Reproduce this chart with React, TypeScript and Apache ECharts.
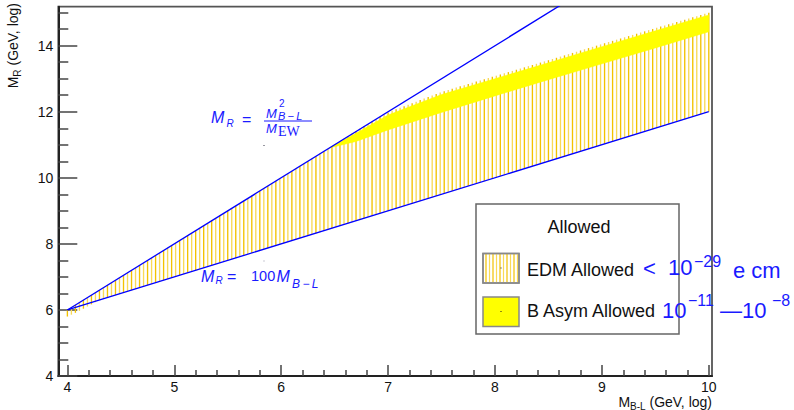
import React, { useEffect, useRef } from "react";
import * as echarts from "echarts";

// ---------- axes ----------
const xRange = [3.915, 10.03];
const yRange = [4, 15.18];
const xTickValues = [4, 5, 6, 7, 8, 9, 10];
const xMinorTickValues = [4.2, 4.4, 4.6, 4.8, 5.2, 5.4, 5.6, 5.8, 6.2, 6.4, 6.6, 6.8, 7.2, 7.4, 7.6, 7.8, 8.2, 8.4, 8.6, 8.8, 9.2, 9.4, 9.6, 9.8];
const yTickValues = [4, 6, 8, 10, 12, 14];
const yMinorTickValues = [4.5, 5, 5.5, 6.5, 7, 7.5, 8.5, 9, 9.5, 10.5, 11, 11.5, 12.5, 13, 13.5, 14.5, 15];

// ---------- boundary lines (log10 GeV) ----------
const lineX = [4, 10];
const upperLineY = [6, 18]; // M_R = M_{B-L}^2 / M_EW
const lowerLineY = [6, 12]; // M_R = 100 M_{B-L}

// ---------- EDM allowed region (hatched) ----------
const edmUpperX = [4.0, 6.45, 6.7, 7.0, 7.5, 8.0, 8.5, 9.0, 9.5, 10.0];
const edmUpperY = [6.0, 10.9, 11.42, 11.98, 12.6, 13.08, 13.56, 14.05, 14.53, 15.0];
const edmLowerX = [4.0, 4.1, 4.3, 10.0];
const edmLowerY = [5.8, 5.95, 6.3, 12.0];

// ---------- B asymmetry allowed band (solid yellow) ----------
const bandX = [6.45, 6.7, 7.0, 7.5, 8.0, 8.5, 9.0, 9.5, 10.0];
const bandTop = [10.9, 11.35, 11.9, 12.52, 13.0, 13.48, 13.97, 14.45, 14.93];
const bandBottom = [10.9, 11.1, 11.45, 11.98, 12.48, 12.97, 13.45, 13.93, 14.42];

// ---------- texts ----------
const legendTitle = "Allowed";
const legendLabels = ["EDM Allowed", "B Asym Allowed"];

const BLUE = "#1a1aff";
const HATCH_DARK = "#f2c200";
const HATCH_LIGHT = "#f8da58";
const FONT = "Liberation Sans, Arial, Helvetica, sans-serif";
const HATCH_STEP = 0.0375;

function interp(xs: number[], ys: number[], x: number) {
  if (x <= xs[0]) return ys[0];
  for (let i = 1; i < xs.length; i++) {
    if (x <= xs[i]) {
      const t = (x - xs[i - 1]) / (xs[i] - xs[i - 1]);
      return ys[i - 1] + t * (ys[i] - ys[i - 1]);
    }
  }
  return ys[ys.length - 1];
}

function txt(x: number, y: number, text: string, size: number, opts: any = {}) {
  return {
    type: "text",
    x,
    y,
    z: 100,
    style: {
      text,
      fontSize: size,
      fontFamily: opts.family || FONT,
      fontStyle: opts.italic ? "italic" : "normal",
      fill: opts.color || BLUE,
      align: opts.align || "left",
      verticalAlign: "middle",
    },
  };
}

export default function App() {
  const ref = useRef<HTMLDivElement>(null);

  useEffect(() => {
    if (!ref.current) return;
    const chart = echarts.init(ref.current, null, { renderer: "svg" });

    const tickLine = { color: "#444", width: 1.5 };

    const legendHatch: any[] = [];
    for (let i = 0; i < 10; i++) {
      const x = 486 + i * 3.5;
      legendHatch.push({
        type: "line",
        z: 61,
        shape: { x1: x, y1: 254, x2: x, y2: 282 },
        style: { stroke: i % 2 ? HATCH_LIGHT : HATCH_DARK, lineWidth: 1.2 },
      });
    }

    const option: any = {
      animation: false,
      backgroundColor: "#fff",
      grid: {
        left: 58.3,
        top: 6.7,
        right: 82,
        bottom: 34,
        show: true,
        borderColor: "#555",
        borderWidth: 1.8,
        backgroundColor: "transparent",
      },
      xAxis: [
        {
          type: "value",
          min: xRange[0],
          max: xRange[1],
          position: "bottom",
          axisLine: { show: true, onZero: false, lineStyle: { color: "#222", width: 2 } },
          axisTick: { show: true, inside: true, length: 11, customValues: xTickValues, lineStyle: tickLine },
          axisLabel: { customValues: xTickValues, fontSize: 14, color: "#111", fontFamily: FONT, margin: 4 },
          splitLine: { show: false },
        },
        {
          type: "value",
          min: xRange[0],
          max: xRange[1],
          position: "bottom",
          axisLine: { show: false, onZero: false },
          axisTick: { show: true, inside: true, length: 6, customValues: xMinorTickValues, lineStyle: tickLine },
          axisLabel: { show: false },
          splitLine: { show: false },
        },
      ],
      yAxis: [
        {
          type: "value",
          min: yRange[0],
          max: yRange[1],
          position: "left",
          axisLine: { show: true, onZero: false, lineStyle: { color: "#222", width: 2 } },
          axisTick: { show: true, inside: true, length: 19, customValues: yTickValues, lineStyle: tickLine },
          axisLabel: { customValues: yTickValues, fontSize: 14, color: "#111", fontFamily: FONT, margin: 5 },
          splitLine: { show: false },
        },
        {
          type: "value",
          min: yRange[0],
          max: yRange[1],
          position: "left",
          axisLine: { show: false, onZero: false },
          axisTick: { show: true, inside: true, length: 10, customValues: yMinorTickValues, lineStyle: tickLine },
          axisLabel: { show: false },
          splitLine: { show: false },
        },
      ],
      series: [
        {
          type: "custom",
          name: "EDM Allowed",
          z: 1,
          silent: true,
          data: [[edmUpperX[0], edmUpperY[0]]],
          renderItem: (_params: any, api: any) => {
            const children: any[] = [];
            const x0 = edmUpperX[0];
            const x1 = edmUpperX[edmUpperX.length - 1];
            const n = Math.round((x1 - x0) / HATCH_STEP);
            for (let i = 0; i <= n; i++) {
              const x = x0 + i * HATCH_STEP;
              const lo = interp(edmLowerX, edmLowerY, x);
              const hi = interp(edmUpperX, edmUpperY, x);
              const p1 = api.coord([x, lo]);
              const p2 = api.coord([x, hi]);
              children.push({
                type: "line",
                shape: { x1: p1[0], y1: p1[1], x2: p2[0], y2: p2[1] },
                style: { stroke: i % 2 ? HATCH_LIGHT : HATCH_DARK, lineWidth: 1.35 },
              });
            }
            return { type: "group", children };
          },
        },
        {
          type: "custom",
          name: "B Asym Allowed",
          z: 2,
          silent: true,
          data: [[bandX[0], bandTop[0]]],
          renderItem: (_params: any, api: any) => {
            const pts: number[][] = [];
            for (let i = 0; i < bandX.length; i++) pts.push(api.coord([bandX[i], bandTop[i]]));
            for (let i = bandX.length - 1; i >= 0; i--) pts.push(api.coord([bandX[i], bandBottom[i]]));
            return { type: "polygon", shape: { points: pts }, style: { fill: "#ffff00", stroke: "#ffff00", lineWidth: 0.5 } };
          },
        },
        {
          type: "line",
          z: 3,
          silent: true,
          showSymbol: false,
          clip: true,
          data: lineX.map((x, i) => [x, upperLineY[i]]),
          lineStyle: { color: "#0000ff", width: 1.3 },
        },
        {
          type: "line",
          z: 3,
          silent: true,
          showSymbol: false,
          clip: true,
          data: lineX.map((x, i) => [x, lowerLineY[i]]),
          lineStyle: { color: "#0000ff", width: 1.3 },
        },
      ],
      graphic: {
        elements: [
          // axis titles
          {
            type: "text",
            x: 712,
            y: 402,
            z: 100,
            style: {
              text: "{m|M}{s|B-L}{m| (GeV, log)}",
              align: "right",
              verticalAlign: "middle",
              rich: {
                m: { fontSize: 14, fontFamily: FONT, fill: "#111", lineHeight: 18 },
                s: { fontSize: 10, fontFamily: FONT, fill: "#111", verticalAlign: "bottom" },
              },
            },
          },
          {
            type: "text",
            x: 13,
            y: 3,
            rotation: Math.PI / 2,
            z: 100,
            style: {
              text: "{m|M}{s|R}{m| (GeV, log)}",
              align: "right",
              verticalAlign: "middle",
              rich: {
                m: { fontSize: 14, fontFamily: FONT, fill: "#111", lineHeight: 18 },
                s: { fontSize: 10, fontFamily: FONT, fill: "#111", verticalAlign: "bottom" },
              },
            },
          },
          // formula 1: M_R = M_{B-L}^2 / M_EW
          txt(211, 117.5, "M", 16, { italic: true }),
          txt(226.5, 123, "R", 10, { italic: true }),
          txt(242, 119, "=", 16),
          txt(266, 113.5, "M", 13, { italic: true }),
          txt(279, 103.5, "2", 10),
          txt(278, 115.5, "B\u2009\u2212\u2009L", 11, { italic: true }),
          { type: "line", z: 100, shape: { x1: 264, y1: 121, x2: 312, y2: 121 }, style: { stroke: BLUE, lineWidth: 1 } },
          txt(266, 128.5, "M", 13, { italic: true }),
          txt(278, 131, "EW", 14, { family: "Liberation Serif, serif" }),
          // formula 2: M_R = 100 M_{B-L}
          txt(201, 276, "M", 16, { italic: true }),
          txt(215.5, 280.5, "R", 10, { italic: true }),
          txt(227, 276, "=", 16),
          txt(251, 276, "100", 14.5),
          txt(276.5, 276, "M", 16, { italic: true }),
          txt(292, 283.5, "B\u2009\u2212\u2009L", 12, { italic: true }),
          // tiny marker dots
          { type: "rect", z: 100, shape: { x: 263.5, y: 145, width: 1, height: 1 }, style: { fill: "#334" } },
          { type: "rect", z: 100, shape: { x: 263.5, y: 260.5, width: 1, height: 1 }, style: { fill: "#99a" } },
          // legend box
          { type: "rect", z: 50, shape: { x: 476, y: 204, width: 203, height: 130 }, style: { fill: "#fff", stroke: "#666", lineWidth: 1.5 } },
          txt(579, 227, legendTitle, 18, { color: "#111", align: "center" }),
          { type: "rect", z: 60, shape: { x: 483, y: 253.5, width: 36, height: 29.5 }, style: { fill: "#fff", stroke: "#888", lineWidth: 1.5 } },
          ...legendHatch,
          { type: "rect", z: 62, shape: { x: 483, y: 253.5, width: 36, height: 29.5 }, style: { fill: "none", stroke: "#888", lineWidth: 1.5 } },
          { type: "rect", z: 60, shape: { x: 483, y: 297, width: 36, height: 29.5 }, style: { fill: "#ffff00", stroke: "#888", lineWidth: 1.5 } },
          { type: "rect", z: 63, shape: { x: 500.5, y: 267.5, width: 1, height: 1 }, style: { fill: "#222" } },
          { type: "rect", z: 63, shape: { x: 500.5, y: 311, width: 1, height: 1 }, style: { fill: "#222" } },
          txt(527, 269.5, legendLabels[0], 18, { color: "#111" }),
          txt(527, 310.5, legendLabels[1], 18, { color: "#111" }),
          // blue annotations
          txt(643, 268, "<", 22),
          txt(668, 267, "10", 22),
          txt(694, 261, "\u221229", 16),
          txt(733, 270, "e cm", 22),
          txt(662, 310, "10", 22),
          txt(688, 300, "\u221211", 16),
          txt(720, 310, "\u201410", 22),
          txt(772, 300, "\u22128", 16),
        ],
      },
    };

    chart.setOption(option);
    return () => chart.dispose();
  }, []);

  return (
    <div
      ref={ref}
      style={{ position: "fixed", left: 0, top: 0, width: 794, height: 410, background: "#fff" }}
    />
  );
}
